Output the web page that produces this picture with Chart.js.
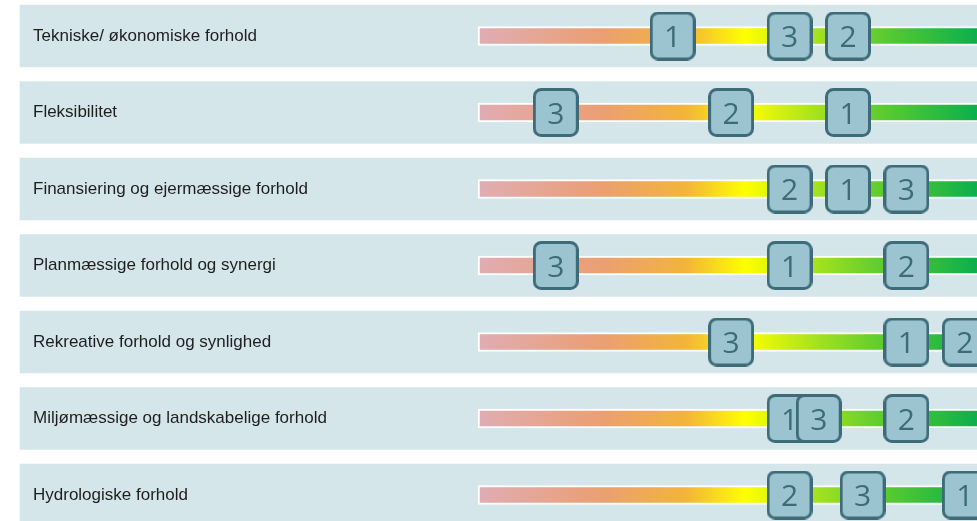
<!DOCTYPE html>
<html>
<head>
<meta charset="utf-8">
<script src="https://cdn.jsdelivr.net/npm/chart.js@4"></script>
<style>
  html, body { margin: 0; padding: 0; background: #fff; }
  #wrap { width: 977px; height: 521px; }
</style>
</head>
<body>
<div id="wrap"><canvas id="chart"></canvas></div>
<script>
// row labels, top to bottom
const labels = [
  'Tekniske/ økonomiske forhold',
  'Fleksibilitet',
  'Finansiering og ejermæssige forhold',
  'Planmæssige forhold og synergi',
  'Rekreative forhold og synlighed',
  'Miljømæssige og landskabelige forhold',
  'Hydrologiske forhold'
];

// score of each numbered box, one value per row
const box1 = [4, 7, 7, 6, 8, 6, 9];
const box2 = [7, 5, 6, 8, 9, 8, 6];
const box3 = [6, 2, 8, 2, 5, 6.5, 7.25];

// score scale: visible range and where the coloured bar begins
const scoreMin = -7.17;
const scoreMax = 9.14;
const barStart = 0.67;

// rounded square used as the point marker
function makeBox() {
  const c = document.createElement('canvas');
  c.width = 46; c.height = 49;
  const g = c.getContext('2d');
  const x = 1.5, y = 1.5, w = 43, h = 46, r = 7;
  g.beginPath();
  g.moveTo(x + r, y);
  g.arcTo(x + w, y, x + w, y + h, r);
  g.arcTo(x + w, y + h, x, y + h, r);
  g.arcTo(x, y + h, x, y, r);
  g.arcTo(x, y, x + w, y, r);
  g.closePath();
  g.fillStyle = '#9bc4d0';
  g.fill();
  g.lineWidth = 3;
  g.strokeStyle = '#3d6b78';
  g.stroke();
  return c;
}
const boxImg = makeBox();

// pink -> orange -> yellow -> green along the bar
function barGradient(context) {
  const chart = context.chart;
  const area = chart.chartArea;
  if (!area) return '#f3b43a';
  const x0 = chart.scales.x.getPixelForValue(barStart);
  const g = chart.ctx.createLinearGradient(x0, 0, area.right, 0);
  g.addColorStop(0, '#e0acb4');
  g.addColorStop(0.25, '#eb9f72');
  g.addColorStop(0.42, '#f3b43a');
  g.addColorStop(0.54, '#ffff00');
  g.addColorStop(0.68, '#a6e31e');
  g.addColorStop(0.82, '#5acb30');
  g.addColorStop(1, '#0fb04b');
  return g;
}

// write the number on each box right after its dataset is drawn
const boxNumbers = {
  id: 'boxNumbers',
  afterDatasetDraw(chart, args) {
    const ds = chart.data.datasets[args.index];
    if (!ds.boxNumber) return;
    const ctx = chart.ctx;
    ctx.save();
    ctx.font = '400 30px "Open Sans"';
    ctx.fillStyle = '#3d6b78';
    ctx.textAlign = 'center';
    ctx.textBaseline = 'alphabetic';
    args.meta.data.forEach(function (pt) {
      ctx.fillText(ds.boxNumber, pt.x, pt.y + 11);
    });
    ctx.restore();
  }
};

function boxSet(num, values, order) {
  return {
    type: 'scatter',
    label: num,
    boxNumber: num,
    data: values.map(function (v, i) { return { x: v, y: i }; }),
    pointStyle: boxImg,
    pointRadius: 0.5,      // image markers ignore the radius, keep layout padding small
    pointBorderWidth: 0,
    order: order,
    clip: false
  };
}

new Chart(document.getElementById('chart'), {
  type: 'bar',
  data: {
    labels: labels,
    datasets: [
      boxSet('3', box3, 1),
      boxSet('2', box2, 2),
      boxSet('1', box1, 3),
      {
        type: 'bar',
        label: 'scale',
        data: labels.map(function () { return [barStart, scoreMax + 1]; }),
        backgroundColor: barGradient,
        borderColor: '#ffffff',
        borderWidth: 2,
        borderSkipped: false,
        barThickness: 19,
        grouped: false,
        order: 9,
        clip: false
      },
      {
        type: 'bar',
        label: 'band',
        data: labels.map(function () { return [scoreMin, scoreMax + 1]; }),
        backgroundColor: '#d5e6eb',
        borderWidth: 0,
        barThickness: 62,
        grouped: false,
        order: 10,
        clip: false
      }
    ]
  },
  options: {
    indexAxis: 'y',
    responsive: true,
    maintainAspectRatio: false,
    animation: false,
    layout: { padding: { left: 20, right: 0, top: 36, bottom: 26 } },
    plugins: { legend: { display: false }, tooltip: { enabled: false } },
    scales: {
      x: { type: 'linear', min: scoreMin, max: scoreMax, offset: false, display: false },
      y: {
        type: 'category',
        offset: false,
        grid: { display: false },
        border: { display: false },
        ticks: {
          z: 1,   // draw the row names on top of the bands
          mirror: true,
          padding: 13,
          color: '#1e1e1e',
          font: { family: '"Liberation Sans Narrow", "Liberation Sans", sans-serif', size: 17 }
        },
        afterFit: function (scale) { scale.width = 0; }
      }
    }
  },
  plugins: [boxNumbers]
});
</script>
</body>
</html>
